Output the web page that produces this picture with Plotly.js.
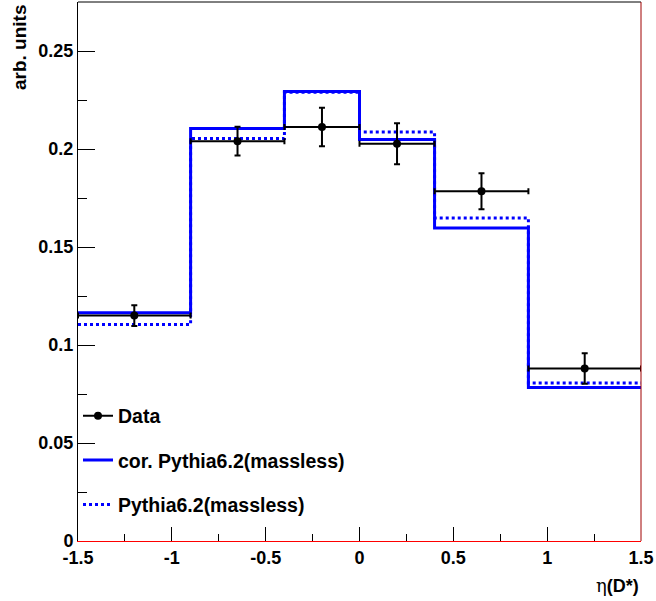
<!DOCTYPE html>
<html>
<head>
<meta charset="utf-8">
<script src="https://cdn.plot.ly/plotly-3.0.1.min.js"></script>
<style>html,body{margin:0;padding:0;background:#fff;} #plot{width:656px;height:601px;}</style>
</head>
<body>
<div id="plot"></div>
<script>
// Bin edges in eta(D*)
var binEdges = [-1.5, -0.9, -0.4, 0.0, 0.4, 0.9, 1.5];
// Data points (bin centres), values and errors
var dataX = [-1.2, -0.65, -0.2, 0.2, 0.65, 1.2];
var dataHalfWidth = [0.3, 0.25, 0.2, 0.2, 0.25, 0.3];
var dataY = [0.1150, 0.2040, 0.2112, 0.2027, 0.1784, 0.0880];
var dataErr = [0.0053, 0.0073, 0.0098, 0.0105, 0.0092, 0.0078];
// Corrected Pythia6.2 (massless), solid
var corPythia = [0.1165, 0.2104, 0.2293, 0.2048, 0.1597, 0.0783];
// Pythia6.2 (massless), dotted
var pythia = [0.1104, 0.2053, 0.2290, 0.2087, 0.1648, 0.0806];
var xTickVals = [-1.5, -1, -0.5, 0, 0.5, 1, 1.5];
var xTickText = ['-1.5', '-1', '-0.5', '0', '0.5', '1', '1.5'];
var yTickVals = [0, 0.05, 0.1, 0.15, 0.2, 0.25];
var yTickText = ['0', '0.05', '0.1', '0.15', '0.2', '0.25'];
var seriesNames = ['Data', 'cor. Pythia6.2(massless)', 'Pythia6.2(massless)'];

function stepY(v) { return v.concat([v[v.length - 1]]); }
function b(s) { return '<b>' + s + '</b>'; }

var FONT = 'Liberation Sans, Arial, Helvetica, sans-serif';

var traces = [
  {
    x: [null], y: [null], type: 'scatter', mode: 'lines+markers',
    line: {color: '#000', width: 2}, marker: {color: '#000', size: 8},
    name: b(seriesNames[0]), legendgroup: 'a'
  },
  {
    x: binEdges, y: stepY(corPythia), type: 'scatter', mode: 'lines',
    line: {shape: 'hv', color: '#0000ff', width: 3},
    name: b(seriesNames[1]), legendgroup: 'b'
  },
  {
    x: binEdges, y: stepY(pythia), type: 'scatter', mode: 'lines',
    line: {shape: 'hv', color: '#0000ff', width: 3, dash: 'dot'},
    name: b(seriesNames[2]), legendgroup: 'c'
  },
  {
    x: dataX, y: dataY, type: 'scatter', mode: 'markers',
    marker: {color: '#000', size: 8},
    error_x: {type: 'data', array: dataHalfWidth, color: '#000', thickness: 2, width: 3},
    error_y: {type: 'data', array: dataErr, color: '#000', thickness: 2, width: 3},
    showlegend: false, name: seriesNames[0], legendgroup: 'a'
  }
];

var layout = {
  width: 656, height: 601,
  margin: {l: 78, r: 15, t: 2, b: 60},
  paper_bgcolor: '#fff', plot_bgcolor: '#fff',
  font: {family: FONT, size: 18, color: '#000'},
  showlegend: true,
  legend: {
    x: 0.0, xanchor: 'left', y: 0.268, yanchor: 'top',
    bgcolor: 'rgba(0,0,0,0)', font: {family: FONT, size: 19.5},
    tracegroupgap: 16, traceorder: 'grouped'
  },
  xaxis: {
    range: [-1.5, 1.5], showgrid: false, zeroline: false,
    showline: true, linecolor: '#ff0000', linewidth: 1,
    ticks: 'inside', ticklen: 14, tickcolor: '#000', tickwidth: 1,
    tickmode: 'array', tickvals: xTickVals, ticktext: xTickText.map(b),
    tickfont: {family: FONT, size: 18},
    minor: {dtick: 0.25, ticks: 'inside', ticklen: 7, tickcolor: '#000', showgrid: false}
  },
  yaxis: {
    range: [0, 0.275], showgrid: false, zeroline: false,
    showline: true, linecolor: '#000', linewidth: 1,
    ticks: 'inside', ticklen: 17, tickcolor: '#000', tickwidth: 1,
    tickmode: 'array', tickvals: yTickVals, ticktext: yTickText.map(b),
    tickfont: {family: FONT, size: 18},
    minor: {dtick: 0.025, ticks: 'inside', ticklen: 9, tickcolor: '#000', showgrid: false}
  },
  shapes: [
    {type: 'line', xref: 'paper', yref: 'paper', x0: 0, x1: 1, y0: 1, y1: 1, line: {color: '#000', width: 1}},
    {type: 'line', xref: 'paper', yref: 'paper', x0: 1, x1: 1, y0: 0, y1: 1, line: {color: '#a00000', width: 1}}
  ],
  annotations: [
    {
      text: b('arb. units'), xref: 'paper', yref: 'paper', x: 0, y: 1,
      xanchor: 'center', yanchor: 'top', xshift: -59, yshift: 0, textangle: -90,
      showarrow: false, font: {family: FONT, size: 19}
    },
    {
      text: '<span style="font-family:DejaVu Serif, Liberation Serif, serif">η</span><b>(D*)</b>',
      xref: 'paper', yref: 'paper', x: 1, y: 0, xanchor: 'right', yanchor: 'middle',
      yshift: -44, showarrow: false, font: {family: FONT, size: 18}
    }
  ]
};

Plotly.newPlot('plot', traces, layout, {displayModeBar: false, staticPlot: true});
</script>
</body>
</html>
